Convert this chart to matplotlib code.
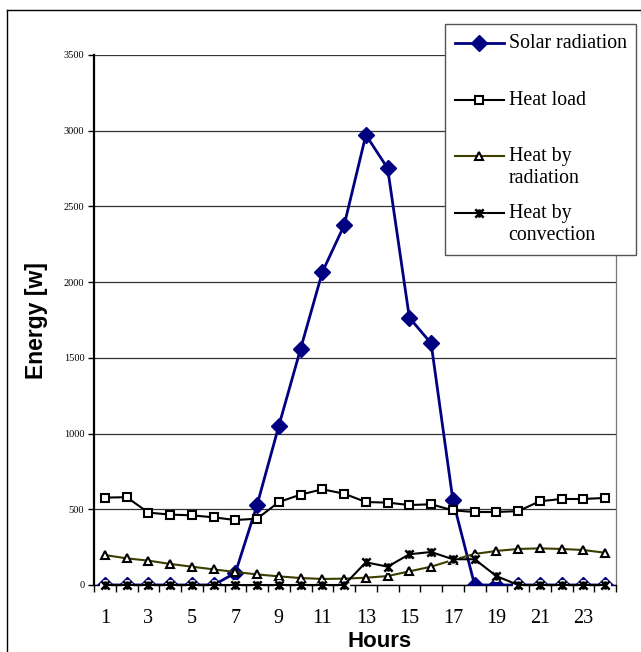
import matplotlib.pyplot as plt
from matplotlib.legend_handler import HandlerLine2D
from matplotlib.lines import Line2D
from matplotlib.path import Path

hours = list(range(1, 25))

solar_radiation = [0, 0, 0, 0, 0, 0, 80, 530, 1052, 1560, 2067, 2375,
                   2972, 2752, 1765, 1596, 561, 0, 0, 0, 0, 0, 0, 0]
heat_load = [577, 580, 478, 465, 460, 447, 429, 438, 548, 597, 632, 603,
             548, 544, 528, 533, 493, 482, 482, 488, 553, 568, 568, 575]
heat_radiation = [198, 176, 161, 139, 121, 103, 86, 70, 57, 46, 40, 42,
                  48, 59, 90, 121, 165, 205, 225, 238, 242, 238, 231, 213]
heat_convection = [0, 0, 0, 0, 0, 0, 0, 0, 0, 0, 0, 0,
                   150, 121, 203, 218, 170, 170, 59, 0, 0, 0, 0, 0]

series_labels = ["Solar radiation", "Heat load", "Heat by\nradiation", "Heat by\nconvection"]

# x plus a vertical bar, like the spreadsheet "star" marker
star = Path(
    [(-1, -1), (1, 1), (-1, 1), (1, -1), (0, -1), (0, 1)],
    [Path.MOVETO, Path.LINETO, Path.MOVETO, Path.LINETO, Path.MOVETO, Path.LINETO],
)


class FirstLineHandler(HandlerLine2D):
    """Put the legend handle level with the first line of a two-line label."""

    def create_artists(self, legend, orig_handle, xdescent, ydescent,
                       width, height, fontsize, trans):
        shift = 1.15 * fontsize
        return super().create_artists(legend, orig_handle, xdescent, ydescent - shift,
                                      width, height, fontsize, trans)


W, H = 641, 652
fig = plt.figure(figsize=(W / 100, H / 100), dpi=100)
ax = fig.add_axes([94 / W, 1 - 585 / H, 522 / W, 530 / H])

h_solar, = ax.plot(hours, solar_radiation, color="#000080", lw=2, marker="D", ms=8,
                   mfc="#000080", mec="#000080", zorder=3)
h_load, = ax.plot(hours, heat_load, color="black", lw=1.5, marker="s", ms=6,
                  mfc="white", mec="black", mew=1.5, clip_on=False, zorder=4)
h_rad, = ax.plot(hours, heat_radiation, color="#3d3d00", lw=1.5, marker="^", ms=6,
                 mfc="white", mec="black", mew=1.5, clip_on=False, zorder=4)
ax.plot(hours, heat_convection, ls="none", marker="o", ms=8, mfc="white", mec="none",
        clip_on=False, zorder=4.5)
h_conv, = ax.plot(hours, heat_convection, color="black", lw=1.5, marker=star, ms=6,
                  mec="black", mew=1.8, clip_on=False, zorder=5)

ax.set_xlim(0.5, 24.5)
ax.set_ylim(0, 3500)
ax.set_yticks(range(0, 3501, 500))
ax.set_xticks(hours[::2])
ax.set_xticks([h + 0.5 for h in range(0, 25)], minor=True)
ax.tick_params(axis="x", which="major", length=0, pad=17, labelsize=14.5)
ax.tick_params(axis="x", which="minor", length=5, width=1, direction="out")
ax.tick_params(axis="y", length=4, width=1, direction="out", labelsize=7.5, pad=3)
for lab in ax.get_xticklabels() + ax.get_yticklabels():
    lab.set_fontfamily("Liberation Serif")

ax.yaxis.grid(True, color="#333333", lw=0.9)
ax.set_axisbelow(True)
ax.spines["top"].set_visible(False)
ax.spines["left"].set_linewidth(1.6)
ax.spines["bottom"].set_linewidth(1)
ax.spines["right"].set_color("#777777")
ax.spines["right"].set_linewidth(0.9)

fig.text(36 / W, 1 - 321 / H, "Energy [w]", rotation=90, ha="center", va="center",
         fontsize=16.5, fontweight="bold", family="Liberation Sans")
fig.text(380 / W, 1 - 647 / H, "Hours", ha="center", va="baseline",
         fontsize=16, fontweight="bold", family="Liberation Sans")

# every legend slot is two lines tall, as in the spreadsheet legend
legend_text = [lab if "\n" in lab else lab + "\n" for lab in series_labels]
leg = ax.legend([h_solar, h_load, h_rad, h_conv], legend_text,
                loc="upper left", bbox_to_anchor=(445 / W, 1 - 24 / H),
                bbox_transform=fig.transFigure,
                prop={"family": "Liberation Serif", "size": 14.3},
                frameon=True, fancybox=False, edgecolor="#555555", framealpha=1,
                handlelength=2.45, handletextpad=0.25, labelspacing=0.8,
                borderpad=0.5, borderaxespad=0,
                handler_map={Line2D: FirstLineHandler()})
leg.get_frame().set_linewidth(1)
leg.set_zorder(10)

# outer chart frame
fig.add_artist(Line2D([7 / W, 7 / W], [0, 1 - 10 / H], color="black", lw=1))
fig.add_artist(Line2D([7 / W, 1], [1 - 10 / H, 1 - 10 / H], color="black", lw=1))

fig.savefig("out.png", dpi=100)
plt.close(fig)
